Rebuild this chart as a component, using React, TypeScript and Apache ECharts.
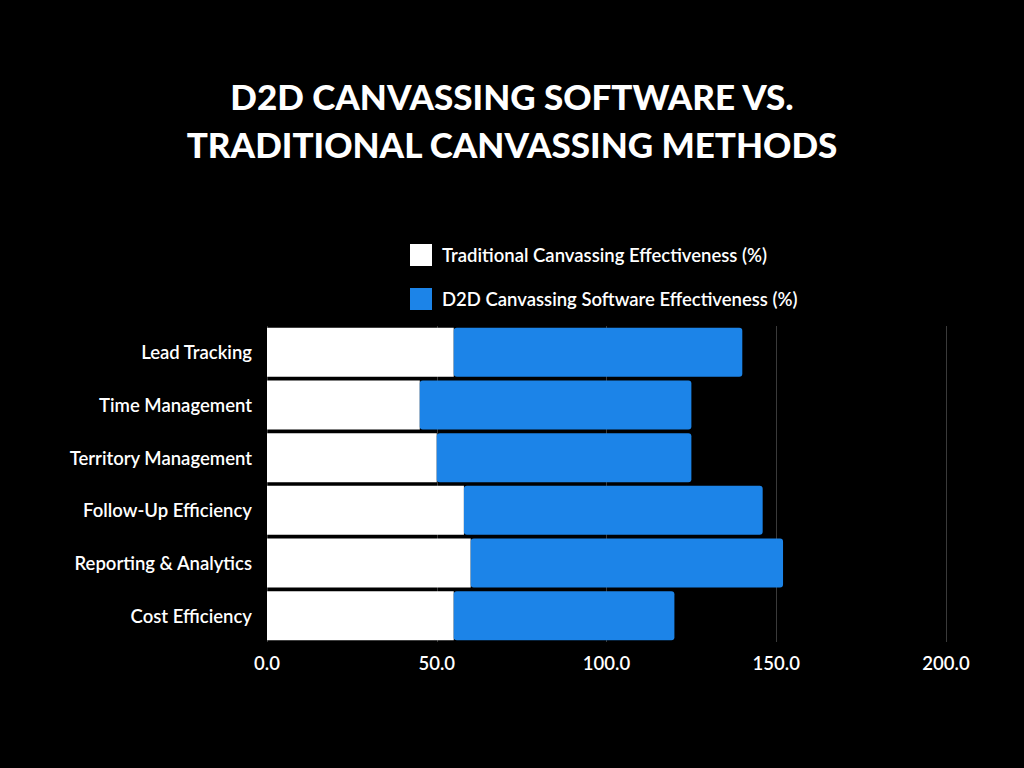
import React, { useEffect, useRef } from "react";
import * as echarts from "echarts";

const categories = [
  "Lead Tracking",
  "Time Management",
  "Territory Management",
  "Follow-Up Efficiency",
  "Reporting & Analytics",
  "Cost Efficiency",
];
const traditional = [55, 45, 50, 58, 60, 55];
const software = [85, 80, 75, 88, 92, 65];
const xTicks = [0, 50, 100, 150, 200];
const seriesNames = [
  "Traditional Canvassing Effectiveness (%)",
  "D2D Canvassing Software Effectiveness (%)",
];
const titleLines = ["D2D CANVASSING SOFTWARE VS.", "TRADITIONAL CANVASSING METHODS"];

export default function App() {
  const ref = useRef<HTMLDivElement>(null);
  useEffect(() => {
    document.body.style.margin = "0";
    const chart = echarts.init(ref.current!, null, { renderer: "svg" });
    chart.setOption({
      animation: false,
      backgroundColor: "#000000",
      title: {
        text: titleLines.join("\n"),
        left: "center",
        top: 67,
        textStyle: {
          color: "#ffffff",
          fontFamily: "Lato",
          fontWeight: 900,
          fontSize: 35,
          lineHeight: 48,
        },
      },
      legend: {
        orient: "vertical",
        left: 405,
        top: 239,
        itemWidth: 22,
        itemHeight: 22,
        itemGap: 22,
        icon: "rect",
        data: seriesNames,
        textStyle: {
          color: "#ffffff",
          fontFamily: "Lato",
          fontWeight: 600,
          fontSize: 18.5,
          padding: [0, 0, 0, 5],
        },
      },
      grid: {
        left: 267,
        right: 78,
        top: 326,
        bottom: 126,
        containLabel: false,
      },
      xAxis: {
        type: "value",
        min: xTicks[0],
        max: xTicks[xTicks.length - 1],
        interval: 50,
        axisLine: { show: false },
        axisTick: { show: false },
        splitLine: { show: true, lineStyle: { color: "#3a3a3a", width: 1 } },
        axisLabel: {
          color: "#ffffff",
          fontFamily: "Lato",
          fontWeight: 600,
          fontSize: 18.5,
          margin: 11,
          formatter: (v: number) => v.toFixed(1),
        },
      },
      yAxis: {
        type: "category",
        inverse: true,
        data: categories,
        axisLine: { show: false },
        axisTick: { show: false },
        axisLabel: {
          color: "#ffffff",
          fontFamily: "Lato",
          fontWeight: 600,
          fontSize: 18.5,
          margin: 15,
        },
      },
      series: [
        {
          name: seriesNames[0],
          type: "bar",
          stack: "total",
          data: traditional,
          barCategoryGap: "7%",
          itemStyle: { color: "#ffffff" },
        },
        {
          name: seriesNames[1],
          type: "bar",
          stack: "total",
          data: software,
          barCategoryGap: "7%",
          itemStyle: { color: "#1c84e8", borderRadius: 3 },
        },
      ],
    });
    return () => chart.dispose();
  }, []);
  return (
    <div
      ref={ref}
      style={{ position: "absolute", left: 0, top: 0, width: 1024, height: 768 }}
    />
  );
}
